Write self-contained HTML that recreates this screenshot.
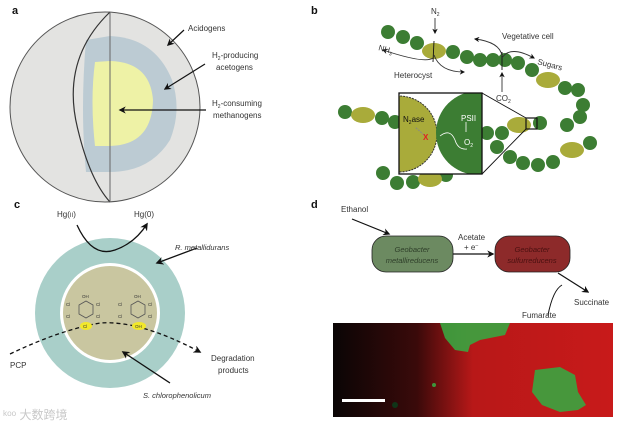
<!DOCTYPE html>
<html><head><meta charset="utf-8"><style>
html,body{margin:0;padding:0;background:#fff;width:631px;height:426px;overflow:hidden}
svg{display:block;font-family:"Liberation Sans","Noto Sans CJK SC",sans-serif}
</style></head><body>
<svg width="631" height="426" viewBox="0 0 631 426" xmlns="http://www.w3.org/2000/svg">
<defs>
<marker id="ah" viewBox="0 0 10 10" refX="8" refY="5" markerWidth="6" markerHeight="6" orient="auto"><path d="M0,0 L10,5 L0,10 L3,5z" fill="#111"/></marker>
<linearGradient id="mic" x1="0" x2="1" y1="0" y2="0"><stop offset="0" stop-color="#0a0505"/><stop offset="0.3" stop-color="#3a0a0a"/><stop offset="0.5" stop-color="#b81818"/><stop offset="1" stop-color="#c81a1a"/></linearGradient>
<clipPath id="bx"><rect x="399" y="93" width="83" height="81"/></clipPath>
<clipPath id="sph"><circle cx="105" cy="107" r="95"/></clipPath>
</defs>
<g font-weight="bold" font-size="11" fill="#111">
<text x="12" y="14">a</text><text x="311" y="14">b</text><text x="14" y="208">c</text><text x="311" y="208">d</text></g>

<!-- panel a -->
<circle cx="105" cy="107" r="95" fill="#e3e3e1" stroke="#555" stroke-width="1"/>
<g clip-path="url(#sph)">
<path d="M110,36 Q155,38 172,80 Q182,110 170,140 Q150,172 110,172 L86,172 Q80,110 86,40 Z" fill="#bccbd3"/>
<path d="M110,61 Q150,62 153,100 Q152,145 110,146 L95,146 Q90,100 95,62 Z" fill="#eef2a6"/>
</g>
<path d="M110,12 Q60,60 78,130 Q90,180 110,202" fill="none" stroke="#333" stroke-width="1.2"/>
<line x1="110" y1="12" x2="110" y2="202" stroke="#666" stroke-width="1"/>
<g font-size="8" fill="#333">
<text x="188" y="31">Acidogens</text>
<text x="212" y="58">H<tspan font-size="5" dy="2">2</tspan><tspan dy="-2">-producing</tspan></text>
<text x="216" y="70">acetogens</text>
<text x="212" y="106">H<tspan font-size="5" dy="2">2</tspan><tspan dy="-2">-consuming</tspan></text>
<text x="213" y="118">methanogens</text>
</g>
<g stroke="#111" stroke-width="1.2" marker-end="url(#ah)">
<line x1="184" y1="30" x2="168" y2="45"/><line x1="205" y1="64" x2="165" y2="89"/><line x1="206" y1="110" x2="120" y2="110"/></g>

<!-- panel b chains -->
<g fill="#3c7d33">
<circle cx="388" cy="32" r="7"/><circle cx="403" cy="37" r="7"/><circle cx="417" cy="43" r="7"/>
<circle cx="453" cy="52" r="7"/><circle cx="467" cy="57" r="7"/><circle cx="480" cy="60" r="7"/><circle cx="493" cy="60" r="7"/><circle cx="505" cy="60" r="7"/><circle cx="518" cy="63" r="7"/><circle cx="532" cy="70" r="7"/>
<circle cx="565" cy="88" r="7"/><circle cx="578" cy="90" r="7"/><circle cx="583" cy="105" r="7"/><circle cx="580" cy="117" r="7"/><circle cx="567" cy="125" r="7"/>
<circle cx="345" cy="112" r="7"/><circle cx="382" cy="118" r="7"/><circle cx="395" cy="122" r="7"/>
<circle cx="487" cy="133" r="7"/><circle cx="502" cy="133" r="7"/><circle cx="540" cy="123" r="7"/>
<circle cx="497" cy="147" r="7"/><circle cx="510" cy="157" r="7"/><circle cx="523" cy="163" r="7"/><circle cx="538" cy="165" r="7"/><circle cx="553" cy="162" r="7"/><circle cx="590" cy="143" r="7"/>
<circle cx="383" cy="173" r="7"/><circle cx="397" cy="183" r="7"/><circle cx="413" cy="182" r="7"/><circle cx="446" cy="175" r="7"/>
</g>
<g fill="#a9ab3a">
<ellipse cx="434" cy="51" rx="12" ry="8"/><ellipse cx="548" cy="80" rx="12" ry="8"/><ellipse cx="363" cy="115" rx="12" ry="8"/>
<ellipse cx="519" cy="125" rx="12" ry="8"/><ellipse cx="572" cy="150" rx="12" ry="8"/><ellipse cx="430" cy="179" rx="12" ry="8"/></g>
<g stroke="#111" stroke-width="0.9" fill="none">
<line x1="434" y1="41" x2="433" y2="62"/><line x1="502" y1="52" x2="502" y2="70"/>
<rect x="526" y="118" width="11" height="11" stroke-width="1.2"/>
<line x1="482" y1="93" x2="526" y2="118"/><line x1="482" y1="174" x2="526" y2="129"/>
</g>
<g stroke="#333" stroke-width="0.9" fill="none" marker-end="url(#ah)">
<line x1="435" y1="18" x2="435" y2="33"/>
<path d="M433,58 Q425,64 383,50"/><path d="M434,55 Q440,72 464,72"/>
<path d="M502,56 Q500,42 475,39"/><path d="M502,58 Q510,45 534,58"/>
<line x1="502" y1="92" x2="502" y2="73"/></g>
<rect x="399" y="93" width="83" height="81" fill="#fff"/>
<g clip-path="url(#bx)">
<circle cx="399" cy="134" r="38" fill="#a9ab3a" stroke="#333" stroke-dasharray="2,1"/>
<circle cx="478" cy="133" r="42" fill="#3c7d33"/>
</g>
<rect x="399" y="93" width="83" height="81" fill="none" stroke="#111" stroke-width="1.3"/>
<path d="M467,149 Q458,150 455,140 Q450,128 440,136" fill="none" stroke="#fff" stroke-width="0.8"/>
<line x1="466" y1="122" x2="466" y2="132" stroke="#fff" stroke-width="0.8"/>
<line x1="424" y1="135" x2="415" y2="127" stroke="#888" stroke-dasharray="2,1"/>
<g font-size="8" fill="#333">
<text x="431" y="14">N<tspan font-size="5" dy="2">2</tspan></text>
<text x="378" y="50" transform="rotate(15 378 50)">NH<tspan font-size="5" dy="2">3</tspan></text>
<text x="394" y="78">Heterocyst</text>
<text x="502" y="39">Vegetative cell</text>
<text x="537" y="64" transform="rotate(15 537 64)">Sugars</text>
<text x="496" y="101">CO<tspan font-size="5" dy="2">2</tspan></text>
<text x="403" y="122" fill="#111">N<tspan font-size="5" dy="2">2</tspan><tspan dy="-2">ase</tspan></text>
<text x="461" y="121" fill="#fff">PSII</text>
<text x="464" y="145" fill="#fff">O<tspan font-size="5" dy="2">2</tspan></text>
<text x="423" y="140" fill="#e02020" font-weight="bold">X</text>
</g>

<!-- panel c -->
<circle cx="110" cy="313" r="75" fill="#a9cfc9"/>
<circle cx="110" cy="313" r="50" fill="#fff"/>
<circle cx="110" cy="313" r="47" fill="#c9c6a0"/>
<path d="M77,225 Q92,258 115,250 Q135,243 147,224" fill="none" stroke="#111" stroke-width="1.3" marker-end="url(#ah)"/>
<line x1="197" y1="248" x2="157" y2="263" stroke="#111" stroke-width="1.3" marker-end="url(#ah)"/>
<line x1="170" y1="383" x2="123" y2="352" stroke="#111" stroke-width="1.3" marker-end="url(#ah)"/>
<path d="M10,354 Q60,330 100,323 Q140,320 200,352" fill="none" stroke="#111" stroke-width="1.3" stroke-dasharray="4,3" marker-end="url(#ah)"/>
<g fill="none" stroke="#555" stroke-width="0.8">
<polygon points="86,301 93,305 93,314 86,318 79,314 79,305"/>
<polygon points="138,301 145,305 145,314 138,318 131,314 131,305"/></g>
<ellipse cx="86" cy="326" rx="6" ry="4" fill="#f2e82a"/><ellipse cx="139" cy="326" rx="7" ry="4" fill="#f2e82a"/>
<g font-size="4.5" fill="#333">
<text x="82" y="298">OH</text><text x="134" y="298">OH</text>
<text x="66" y="306">Cl</text><text x="96" y="306">Cl</text><text x="66" y="318">Cl</text><text x="96" y="318">Cl</text><text x="83" y="328">Cl</text>
<text x="118" y="306">Cl</text><text x="148" y="306">Cl</text><text x="118" y="318">Cl</text><text x="148" y="318">Cl</text><text x="135" y="328">OH</text></g>
<g font-size="8" fill="#333">
<text x="57" y="217">Hg(<tspan font-size="6">II</tspan>)</text><text x="134" y="217">Hg(0)</text>
<text x="175" y="250" font-style="italic" font-size="7.5">R. metallidurans</text>
<text x="10" y="368">PCP</text>
<text x="211" y="361">Degradation</text><text x="218" y="373">products</text>
<text x="143" y="398" font-style="italic" font-size="7.5">S. chlorophenolicum</text>
</g>
<text x="3" y="419" font-size="12" fill="#c8c8c8">ᵏᵒᵒ 大数跨境</text>

<!-- panel d -->
<text x="341" y="212" font-size="8" fill="#333">Ethanol</text>
<line x1="352" y1="219" x2="389" y2="234" stroke="#111" stroke-width="1.2" marker-end="url(#ah)"/>
<rect x="372" y="236" width="81" height="36" rx="14" fill="#6c8a61" stroke="#222" stroke-width="0.8"/>
<rect x="495" y="236" width="75" height="36" rx="14" fill="#8d2a2a" stroke="#222" stroke-width="0.8"/>
<line x1="453" y1="254" x2="493" y2="254" stroke="#111" stroke-width="1.2" marker-end="url(#ah)"/>
<path d="M558,273 L588,292" stroke="#111" stroke-width="1.2" marker-end="url(#ah)"/>
<path d="M548,315 Q553,290 562,285" fill="none" stroke="#111" stroke-width="1"/>
<g font-size="7.5" font-style="italic" text-anchor="middle">
<text x="412" y="252" fill="#2f3f2a">Geobacter</text><text x="412" y="263" fill="#2f3f2a">metallireducens</text>
<text x="532" y="252" fill="#4a1010">Geobacter</text><text x="532" y="263" fill="#4a1010">sulfurreducens</text></g>
<g font-size="8" fill="#333">
<text x="458" y="240">Acetate</text><text x="464" y="250">+ e<tspan font-size="5" dy="-3">–</tspan></text>
<text x="574" y="305">Succinate</text><text x="522" y="318">Fumarate</text></g>
<rect x="333" y="323" width="280" height="94" fill="url(#mic)"/>
<g fill="#3aa540" opacity="0.9">
<path d="M440,323 L510,323 L505,335 L480,340 L470,345 L468,352 L455,350 L445,338Z"/>
<path d="M535,370 L560,367 L575,375 L578,392 L586,405 L578,410 L560,412 L542,405 L532,392Z"/>
<circle cx="434" cy="385" r="2"/><circle cx="395" cy="405" r="3" fill="#0d3a1a"/></g>
<rect x="342" y="399" width="43" height="3" fill="#fff"/>
</svg>
</body></html>
